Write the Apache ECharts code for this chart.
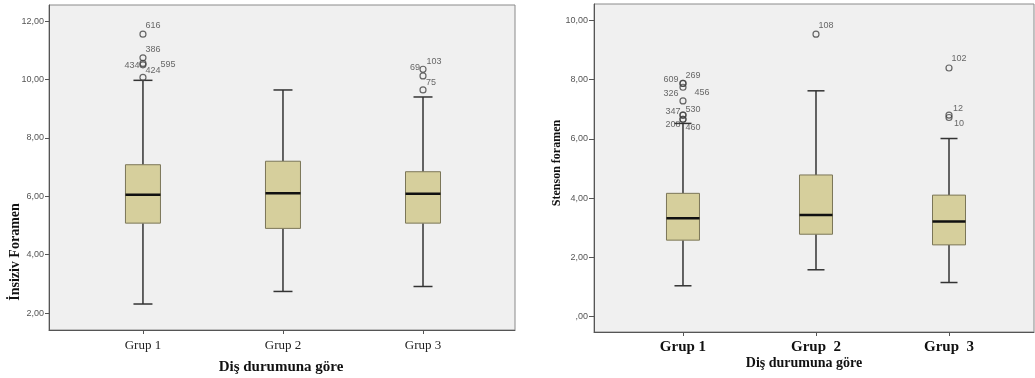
<!DOCTYPE html>
<html>
<head>
<meta charset="utf-8">
<script src="https://cdn.jsdelivr.net/npm/echarts@6/dist/echarts.min.js"></script>
<style>
  html, body { margin: 0; padding: 0; background: #fff; }
  #chart { width: 1035px; height: 378px; }
</style>
</head>
<body>
<div id="chart"></div>
<script>
// kategoriler (sağ grafikte iki boşluklu yazılmış)
const groupsLeft = ['Grup 1', 'Grup 2', 'Grup 3'];
const groupsRight = ['Grup 1', 'Grup  2', 'Grup  3'];

// kutu değerleri: [alt bıyık, Q1, medyan, Q3, üst bıyık]
const insizivStats = [
    [2.31, 5.08, 6.05, 7.08, 9.97],
    [2.74, 4.90, 6.10, 7.20, 9.64],
    [2.91, 5.08, 6.09, 6.84, 9.40]
];
const stensonStats = [
    [1.04, 2.58, 3.32, 4.16, 6.52],
    [1.58, 2.78, 3.43, 4.78, 7.62],
    [1.15, 2.42, 3.21, 4.10, 6.01]
];

// aykırı değerler: [grup, değer, vaka no]
const insizivOutliers = [
    [1, 11.55, '616'], [1, 10.74, '386'], [1, 10.55, '434'], [1, 10.50, '424'], [1, 10.07, '595'],
    [3, 10.35, '103'], [3, 10.12, '69'], [3, 9.64, '75']
];
const stensonOutliers = [
    [1, 7.87, '609'], [1, 7.87, '269'], [1, 7.74, '456'], [1, 7.28, '326'],
    [1, 6.80, '347'], [1, 6.80, '530'], [1, 6.66, '208'], [1, 6.66, '460'],
    [2, 9.53, '108'],
    [3, 8.39, '102'], [3, 6.80, '12'], [3, 6.72, '10']
];

// eksen etiketleri
const insizivTicks = [2, 4, 6, 8, 10, 12];
const stensonTicks = [0, 2, 4, 6, 8, 10];

// etiketlerin daireye göre kayması (SPSS'teki gibi)
const labelShift = {
    left: {
        '616': [10, -9], '386': [10, -8], '434': [-11, 2], '424': [10, 6], '595': [25, -13],
        '103': [11, -8], '69': [-8, -8], '75': [8, -7]
    },
    right: {
        '609': [-12, -4], '269': [10, -8], '456': [19, 5], '326': [-12, -7],
        '347': [-10, -4], '530': [10, -6], '208': [-10, 5], '460': [10, 8],
        '108': [10, -9], '102': [10, -9], '12': [9, -7], '10': [10, 6]
    }
};

const serif = '"Liberation Serif", "DejaVu Serif", serif';
const sans = '"Liberation Sans", Arial, sans-serif';
const fmt = v => (v === 0 ? '' : String(v)) + ',00';

function boxRenderer(boxW, capW) {
    return function (params, api) {
        const x = api.value(0);
        const pt = i => api.coord([x, api.value(i)]);
        const lo = pt(1), q1 = pt(2), md = pt(3), q3 = pt(4), hi = pt(5);
        const cx = lo[0];
        const wh = { stroke: '#333', lineWidth: 1.5 };
        return {
            type: 'group',
            children: [
                { type: 'line', shape: { x1: cx, y1: hi[1], x2: cx, y2: q3[1] }, style: wh },
                { type: 'line', shape: { x1: cx, y1: q1[1], x2: cx, y2: lo[1] }, style: wh },
                { type: 'line', shape: { x1: cx - capW / 2, y1: hi[1], x2: cx + capW / 2, y2: hi[1] }, style: wh },
                { type: 'line', shape: { x1: cx - capW / 2, y1: lo[1], x2: cx + capW / 2, y2: lo[1] }, style: wh },
                {
                    type: 'rect',
                    shape: { x: cx - boxW / 2, y: q3[1], width: boxW, height: q1[1] - q3[1] },
                    style: { fill: '#d6cf9c', stroke: '#7b7658', lineWidth: 1 }
                },
                { type: 'line', shape: { x1: cx - boxW / 2, y1: md[1], x2: cx + boxW / 2, y2: md[1] }, style: { stroke: '#111', lineWidth: 2.5 } }
            ]
        };
    };
}

function outlierData(list, shifts) {
    return list.map(o => ({
        value: [o[0], o[1]],
        name: o[2],
        label: { offset: shifts[o[2]] || [10, -8] }
    }));
}

function outlierSeries(idx, list, shifts) {
    return {
        type: 'scatter',
        xAxisIndex: idx,
        yAxisIndex: idx,
        symbol: 'circle',
        symbolSize: 6,
        z: 5,
        itemStyle: { color: 'rgba(0,0,0,0)', borderColor: '#444', borderWidth: 1.2 },
        label: {
            show: true,
            position: 'inside',
            formatter: '{b}',
            color: '#444',
            fontFamily: sans,
            fontSize: 9
        },
        data: outlierData(list, shifts)
    };
}

const chart = echarts.init(document.getElementById('chart'));

const option = {
    animation: false,
    backgroundColor: '#fff',
    grid: [
        { left: 49, top: 5, width: 466, height: 325, show: true, backgroundColor: '#f0f0f0', borderColor: '#8a8a8a', borderWidth: 1 },
        { left: 594, top: 4, width: 440, height: 328, show: true, backgroundColor: '#f0f0f0', borderColor: '#8a8a8a', borderWidth: 1 }
    ],
    xAxis: [
        {
            gridIndex: 0, type: 'value', min: 0.329, max: 3.657,
            splitLine: { show: false },
            axisLine: { onZero: false, lineStyle: { color: '#555' } },
            axisTick: { customValues: [1, 2, 3], length: 4, lineStyle: { color: '#555' } },
            axisLabel: {
                customValues: [1, 2, 3],
                formatter: v => groupsLeft[Math.round(v) - 1],
                margin: 9, color: '#222', fontFamily: serif, fontSize: 13
            }
        },
        {
            gridIndex: 1, type: 'value', min: 0.331, max: 3.639,
            splitLine: { show: false },
            axisLine: { onZero: false, lineStyle: { color: '#555' } },
            axisTick: { customValues: [1, 2, 3], length: 4, lineStyle: { color: '#555' } },
            axisLabel: {
                customValues: [1, 2, 3],
                formatter: v => groupsRight[Math.round(v) - 1],
                margin: 8, color: '#111', fontFamily: serif, fontSize: 15, fontWeight: 'bold'
            }
        }
    ],
    yAxis: [
        {
            gridIndex: 0, type: 'value', min: 1.42, max: 12.55,
            splitLine: { show: false },
            axisLine: { show: true, onZero: false, lineStyle: { color: '#555' } },
            axisTick: { show: true, customValues: insizivTicks, length: 4, lineStyle: { color: '#555' } },
            axisLabel: { customValues: insizivTicks, formatter: fmt, margin: 5, color: '#555', fontFamily: sans, fontSize: 9 }
        },
        {
            gridIndex: 1, type: 'value', min: -0.52, max: 10.55,
            splitLine: { show: false },
            axisLine: { show: true, onZero: false, lineStyle: { color: '#555' } },
            axisTick: { show: true, customValues: stensonTicks, length: 5, lineStyle: { color: '#555' } },
            axisLabel: { customValues: stensonTicks, formatter: fmt, margin: 6, color: '#555', fontFamily: sans, fontSize: 9 }
        }
    ],
    series: [
        {
            type: 'custom',
            xAxisIndex: 0, yAxisIndex: 0,
            renderItem: boxRenderer(35, 19),
            encode: { x: 0, y: [1, 2, 3, 4, 5] },
            data: insizivStats.map((s, i) => [i + 1].concat(s))
        },
        {
            type: 'custom',
            xAxisIndex: 1, yAxisIndex: 1,
            renderItem: boxRenderer(33, 17),
            encode: { x: 0, y: [1, 2, 3, 4, 5] },
            data: stensonStats.map((s, i) => [i + 1].concat(s))
        },
        outlierSeries(0, insizivOutliers, labelShift.left),
        outlierSeries(1, stensonOutliers, labelShift.right)
    ],
    // eksen başlıkları
    graphic: [
        {
            type: 'text', x: 15, y: 252, rotation: Math.PI / 2,
            style: { text: 'İnsiziv Foramen', font: 'bold 14px ' + serif, fill: '#111', align: 'center', verticalAlign: 'middle' }
        },
        {
            type: 'text', x: 281, y: 367,
            style: { text: 'Diş durumuna göre', font: 'bold 15px ' + serif, fill: '#111', align: 'center', verticalAlign: 'middle' }
        },
        {
            type: 'text', x: 557, y: 163, rotation: Math.PI / 2,
            style: { text: 'Stenson foramen', font: 'bold 12px ' + serif, fill: '#111', align: 'center', verticalAlign: 'middle' }
        },
        {
            type: 'text', x: 804, y: 363,
            style: { text: 'Diş durumuna göre', font: 'bold 14px ' + serif, fill: '#111', align: 'center', verticalAlign: 'middle' }
        }
    ]
};

chart.setOption(option);
</script>
</body>
</html>
